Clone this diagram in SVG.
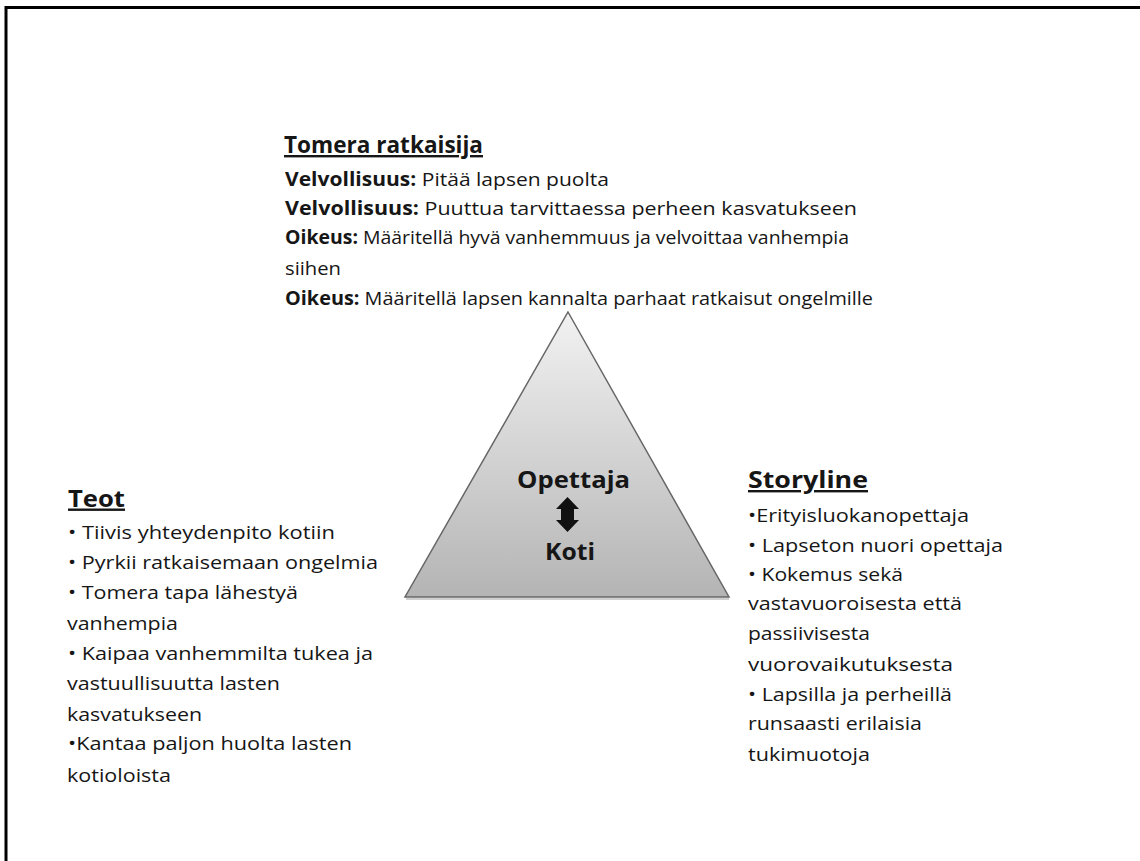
<svg xmlns="http://www.w3.org/2000/svg" width="1140" height="861" viewBox="0 0 1140 861">
<style>
text{font-family:"Open Sans",Lato,"Liberation Sans",sans-serif;fill:#161616}
.h{font-weight:bold;font-size:24px;text-decoration:underline}
.b{font-size:19px}
.k{font-weight:bold}
.c{font-weight:bold;font-size:23px}
</style>
<defs>
<linearGradient id="g" x1="0" y1="0" x2="0" y2="1">
<stop offset="0" stop-color="#f2f2f2"/>
<stop offset="1" stop-color="#b4b4b4"/>
</linearGradient>
</defs>
<rect x="6" y="7.5" width="1200" height="1000" fill="#fff" stroke="#000" stroke-width="3"/>
<g id="triangle">
<polygon points="568,312 729,597 405,597" fill="url(#g)" stroke="#666" stroke-width="1.5"/>
<line x1="406" y1="599" x2="729" y2="599" stroke="#999" stroke-width="1.5" opacity="0.6"/>
<text class="c" x="517" y="488" textLength="113" lengthAdjust="spacingAndGlyphs">Opettaja</text>
<text class="c" x="545" y="560" textLength="50" lengthAdjust="spacingAndGlyphs">Koti</text>
</g>
<g id="connectors">
<path d="M567.5,497 L579,509 L574,509 L574,520 L579,520 L567.5,532 L556,520 L561,520 L561,509 L556,509 Z" fill="#111"/>
</g>
<g id="tomera">
<text class="h" x="284" y="153" textLength="199" lengthAdjust="spacingAndGlyphs">Tomera ratkaisija</text>
<text class="b" x="285" y="186" textLength="324" lengthAdjust="spacingAndGlyphs"><tspan class="k">Velvollisuus:</tspan> Pitää lapsen puolta</text>
<text class="b" x="285" y="214.5" textLength="572" lengthAdjust="spacingAndGlyphs"><tspan class="k">Velvollisuus:</tspan> Puuttua tarvittaessa perheen kasvatukseen</text>
<text class="b" x="285" y="243.5" textLength="564" lengthAdjust="spacingAndGlyphs"><tspan class="k">Oikeus:</tspan>  Määritellä hyvä vanhemmuus ja velvoittaa vanhempia</text>
<text class="b" x="285" y="274.5" textLength="56" lengthAdjust="spacingAndGlyphs">siihen</text>
<text class="b" x="285" y="305" textLength="588" lengthAdjust="spacingAndGlyphs"><tspan class="k">Oikeus:</tspan> Määritellä lapsen kannalta parhaat ratkaisut ongelmille</text>
</g>
<g id="teot">
<text class="h" x="68" y="506.5" textLength="57" lengthAdjust="spacingAndGlyphs">Teot</text>
<text class="b" x="68" y="539" textLength="267" lengthAdjust="spacingAndGlyphs">• Tiivis yhteydenpito kotiin</text>
<text class="b" x="68" y="569" textLength="310" lengthAdjust="spacingAndGlyphs">• Pyrkii ratkaisemaan ongelmia</text>
<text class="b" x="68" y="598.5" textLength="230" lengthAdjust="spacingAndGlyphs">• Tomera tapa lähestyä</text>
<text class="b" x="67" y="629.5" textLength="111" lengthAdjust="spacingAndGlyphs">vanhempia</text>
<text class="b" x="68" y="660" textLength="305" lengthAdjust="spacingAndGlyphs">• Kaipaa vanhemmilta tukea ja</text>
<text class="b" x="67" y="690" textLength="213" lengthAdjust="spacingAndGlyphs">vastuullisuutta lasten</text>
<text class="b" x="67" y="720.5" textLength="135" lengthAdjust="spacingAndGlyphs">kasvatukseen</text>
<text class="b" x="68" y="750" textLength="284" lengthAdjust="spacingAndGlyphs">•Kantaa paljon huolta lasten</text>
<text class="b" x="67" y="781.5" textLength="104" lengthAdjust="spacingAndGlyphs">kotioloista</text>
</g>
<g id="storyline">
<text class="h" x="748" y="488" textLength="120" lengthAdjust="spacingAndGlyphs">Storyline</text>
<text class="b" x="748" y="521.5" textLength="221" lengthAdjust="spacingAndGlyphs">•Erityisluokanopettaja</text>
<text class="b" x="748" y="551.5" textLength="255" lengthAdjust="spacingAndGlyphs">• Lapseton nuori opettaja</text>
<text class="b" x="748" y="581" textLength="155" lengthAdjust="spacingAndGlyphs">• Kokemus sekä</text>
<text class="b" x="748" y="610" textLength="214" lengthAdjust="spacingAndGlyphs">vastavuoroisesta että</text>
<text class="b" x="748" y="640" textLength="122" lengthAdjust="spacingAndGlyphs">passiivisesta</text>
<text class="b" x="748" y="670.5" textLength="205" lengthAdjust="spacingAndGlyphs">vuorovaikutuksesta</text>
<text class="b" x="748" y="700.5" textLength="204" lengthAdjust="spacingAndGlyphs">• Lapsilla ja perheillä</text>
<text class="b" x="748" y="730" textLength="174" lengthAdjust="spacingAndGlyphs">runsaasti erilaisia</text>
<text class="b" x="748" y="761" textLength="122" lengthAdjust="spacingAndGlyphs">tukimuotoja</text>
</g>
</svg>
